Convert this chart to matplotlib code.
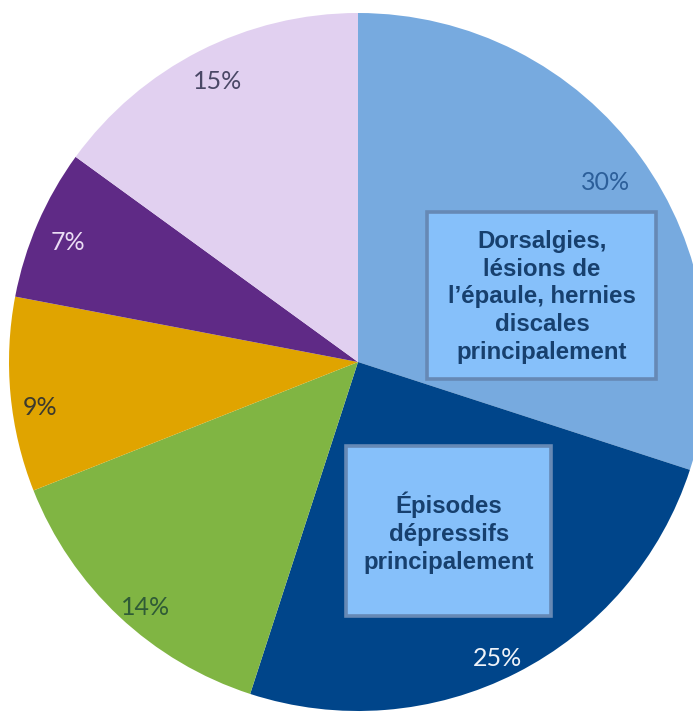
import matplotlib
matplotlib.use("Agg")
import numpy as np
import matplotlib.pyplot as plt
from matplotlib.patches import Rectangle

# Share of each category (percent), clockwise from 12 o'clock
values = [30, 25, 14, 9, 7, 15]
labels = ["30%", "25%", "14%", "9%", "7%", "15%"]
colors = ["#77AADF", "#00458A", "#80B543", "#E0A400", "#5F2A86", "#E1D0F0"]
label_colors = ["#2C5F9A", "#EEF2F8", "#2F5B36", "#3C3A2E", "#EADCF4", "#4A4866"]
# label placement: fraction of radius and angular nudge (degrees) per wedge
label_radius = [0.875, 0.94, 0.93, 0.92, 0.90, 0.90]
label_shift = [0.0, -1.8, 2.3, 2.8, 1.0, -0.4]

callouts = [
    "Dorsalgies,\nlésions de\nl\u2019épaule, hernies\ndiscales\nprincipalement",
    "Épisodes\ndépressifs\nprincipalement",
]

W, H = 693, 727
fig = plt.figure(figsize=(W / 100, H / 100), dpi=100)
ax = fig.add_axes([0, 0, 1, 1])

cx, cy, R = 358, 365, 349
wedges, _ = ax.pie(values, colors=colors, startangle=90, counterclock=False,
                   center=(cx, cy), radius=R,
                   wedgeprops=dict(linewidth=0, antialiased=True))
ax.set_xlim(0, W)
ax.set_ylim(0, H)
ax.set_aspect("equal")
ax.axis("off")

# Percentage labels near the rim of each wedge
for w, lab, col, rf, sh in zip(wedges, labels, label_colors, label_radius, label_shift):
    mid = np.deg2rad((w.theta1 + w.theta2) / 2 + sh)
    x = cx + rf * R * np.cos(mid)
    y = cy + rf * R * np.sin(mid)
    ax.text(x, y, lab, ha="center", va="center", color=col,
            fontsize=18, family="Lato", weight="normal", zorder=5)

# Call-out boxes describing the two largest categories
boxes = [(427, 348, 229, 167, 542, 430), (346, 111, 205, 170, 449, 194)]
for (x0, y0, bw, bh, tx, ty), txt in zip(boxes, callouts):
    ax.add_patch(Rectangle((x0, y0), bw, bh, facecolor="#86C0FA",
                           edgecolor="#6689B5", linewidth=2.6, zorder=3))
    ax.text(tx, ty, txt, ha="center", va="center", color="#17406E",
            fontsize=17.3, family="Liberation Sans", weight="bold",
            linespacing=1.27, zorder=4)

fig.savefig("out.png", dpi=100, facecolor="white")
